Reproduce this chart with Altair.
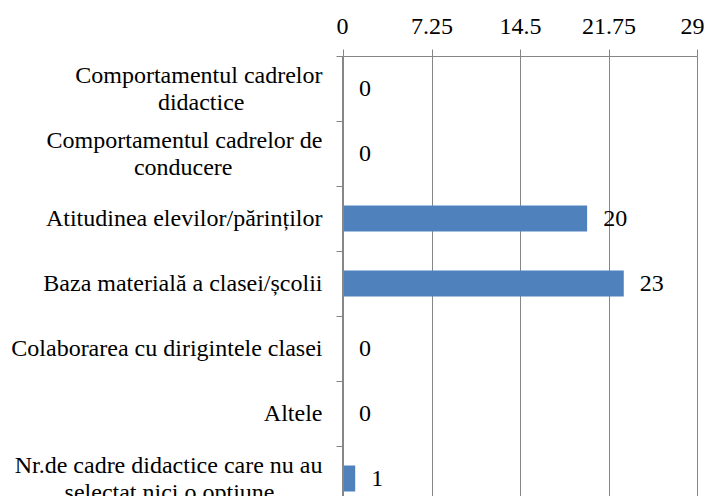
import altair as alt
import pandas as pd

NB = "\u00a0"
END = "\u200b"
categories = [
    "Comportamentul cadrelor\ndidactice" + NB * 13 + END,
    "Comportamentul cadrelor de\nconducere" + NB * 15 + END,
    "Atitudinea elevilor/părinților",
    "Baza materială a clasei/școlii",
    "Colaborarea cu dirigintele clasei",
    "Altele",
    "Nr.de cadre didactice care nu au\nselectat nici o opțiune" + NB * 8 + END,
]
values = [0, 0, 20, 23, 0, 0, 1]
x_ticks = [0, 7.25, 14.5, 21.75, 29]

df = pd.DataFrame({"cat": categories, "val": values})

FONT = "Liberation Serif, Times New Roman, DejaVu Serif, serif"
GRAY = "#868686"

# lines are laid out on a half-line grid so that one- and two-line labels are both centred
label_expr = (
    "indexof(datum.label, '\\n') >= 0"
    " ? split(replace(datum.label, '\\n', '\\n\\u200b\\n'), '\\n')"
    " : ['\\u200b', datum.label]"
)

y_enc = alt.Y(
    "cat:N",
    sort=categories,
    title=None,
    scale=alt.Scale(paddingInner=0, paddingOuter=0),
    axis=alt.Axis(
        labelExpr=label_expr,
        labelFont=FONT,
        labelFontSize=24,
        labelColor="black",
        labelLimit=0,
        labelPadding=14,
        labelLineHeight=13.5,
        labelOffset=-13.5,
        tickSize=7,
        tickColor=GRAY,
        domain=True,
        domainColor=GRAY,
        domainWidth=1,
        tickBand="extent",
        grid=False,
        zindex=1,
    ),
)

x_enc = alt.X(
    "val:Q",
    title=None,
    scale=alt.Scale(domain=[0, 29], nice=False, zero=True),
    axis=alt.Axis(
        orient="top",
        values=x_ticks,
        format=".4~g",
        labelFont=FONT,
        labelFontSize=24,
        labelColor="black",
        labelPadding=11,
        labelFlush=True,
        labelFlushOffset=7,
        tickSize=7,
        tickColor=GRAY,
        domain=True,
        domainColor=GRAY,
        grid=True,
        gridColor=GRAY,
        gridOpacity=1,
        gridWidth=1,
    ),
)

bars = alt.Chart(df).mark_bar(color="#4F81BD", height={"band": 0.4}).encode(
    x=x_enc, y=y_enc
)

texts = alt.Chart(df).mark_text(
    align="left", baseline="middle", dx=16, font=FONT, fontSize=24, color="black"
).encode(
    x=alt.X("val:Q"),
    y=alt.Y("cat:N", sort=categories),
    text=alt.Text("val:Q"),
)

# vertical axis line at zero
zero_line = alt.Chart(df).mark_rule(color=GRAY, strokeWidth=1).encode(
    x=alt.datum(0)
)

chart = (
    alt.layer(bars, texts, zero_line)
    .properties(
        width=354,
        height=455,
        autosize=alt.AutoSizeParams(type="none"),
        padding={"left": 335, "top": 48, "right": 8, "bottom": -15},
    )
    .configure_view(strokeOpacity=0)
    .configure(background="white")
)

chart.save("out.html", embed_options={"renderer": "svg", "actions": False})
